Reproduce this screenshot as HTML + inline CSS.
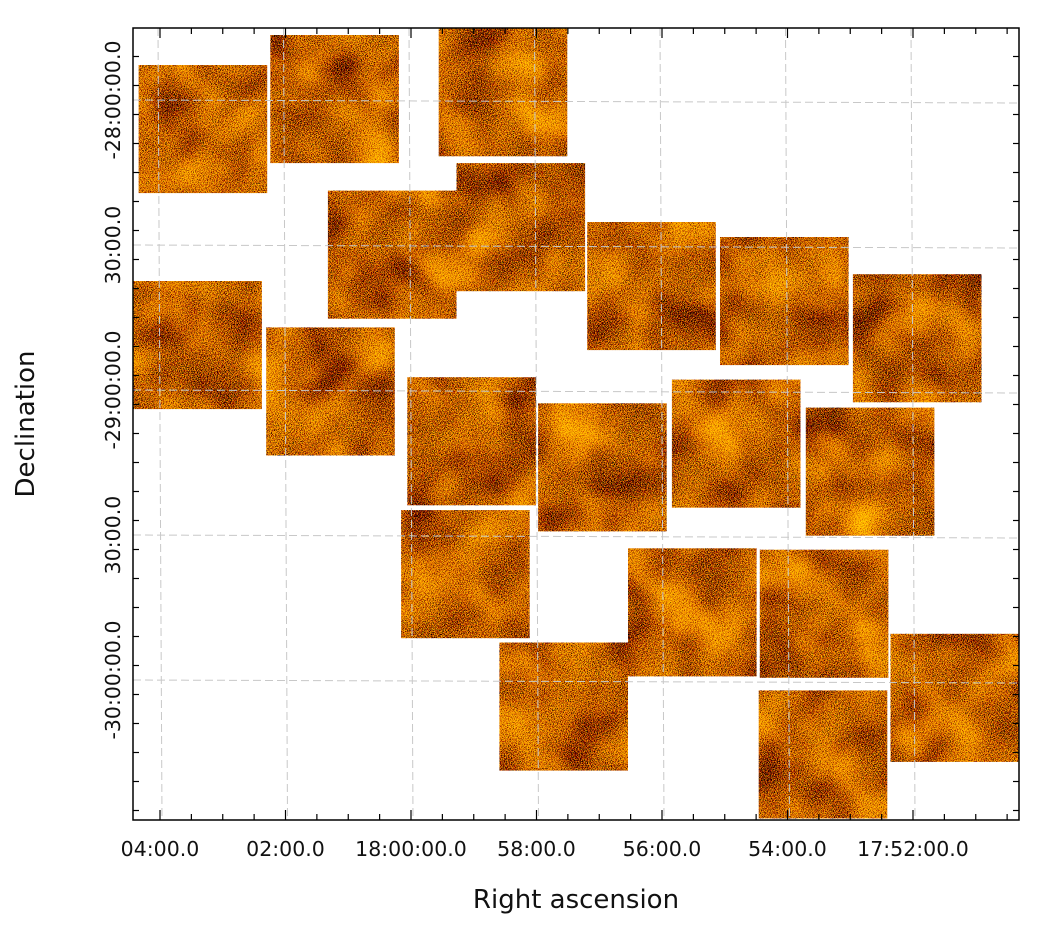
<!DOCTYPE html>
<html><head><meta charset="utf-8">
<style>
body{margin:0;background:#fff;}
svg{display:block;font-family:"DejaVu Sans","Liberation Sans",sans-serif;}
</style></head>
<body>
<svg id="chart" width="1041" height="929" viewBox="0 0 1041 929">
<defs>
<filter id="noise" x="0" y="0" width="1" height="1" filterUnits="objectBoundingBox">
<feTurbulence type="fractalNoise" baseFrequency="1.3" numOctaves="1" seed="3" result="n"/>
<feTurbulence type="fractalNoise" baseFrequency="0.02" numOctaves="2" seed="7" result="low"/>
<feComposite in="n" in2="low" operator="arithmetic" k1="0" k2="1.0" k3="0.3" k4="-0.07" result="mix"/>
<feColorMatrix in="mix" type="matrix" values="5 0 0 0 -1.5  2.3 0 0 0 -0.85  0 0 0 0 0  0 0 0 0 1" result="col"/>
<feComposite in="col" in2="SourceGraphic" operator="in"/>
</filter>
<clipPath id="plotclip"><rect x="133" y="28" width="886" height="792"/></clipPath>
</defs>
<g id="tiles" clip-path="url(#plotclip)"></g>
<g id="grid"></g>
<rect x="133" y="28" width="886" height="792" fill="none" stroke="#000" stroke-width="1.5"/>
<g id="ticks"></g>
<text x="576" y="908" font-size="26" text-anchor="middle" fill="#111">Right ascension</text>
<text x="0" y="0" font-size="26" text-anchor="middle" fill="#111" transform="translate(34,424) rotate(-90)">Declination</text>
</svg>
<script>
// RA offsets in seconds of time relative to 18:00:00 (positive = east/left)
const tileRA = [199,73,-88,18,-105,-230,-357,-484,204,77,-58,-183,-311,-439,-52,-269,-395,-520,-146,-394];
// Dec offsets in arcmin south of -28:00:00
const tileDec = [6.0,-0.2,-1.6,32.0,26.3,38.5,41.6,49.3,50.7,60.3,70.6,76.0,71.1,76.9,98.1,106.0,106.3,123.7,125.5,135.4];
const tileW = 123; // seconds
const tileH = 26.5; // arcmin
const raTicks = [240,120,0,-120,-240,-360,-480];
const raLabels = ["04:00.0","02:00.0","18:00:00.0","58:00.0","56:00.0","54:00.0","17:52:00.0"];
const decTicks = [0,30,60,90,120];
const decLabels = ["-28:00:00.0","30:00.0","-29:00:00.0","30:00.0","-30:00:00.0"];

const X0=411, PXS=125.5/120, Y0=100, PYM=145/30;
function xs(ra){return X0-ra*PXS;}
function ys(m){return Y0+m*PYM;}
const NS="http://www.w3.org/2000/svg";
const tg=document.getElementById('tiles');
for(let i=0;i<tileRA.length;i++){
  const r=document.createElementNS(NS,'rect');
  const w=tileW*PXS, h=tileH*PYM;
  r.setAttribute('x',(xs(tileRA[i])-w/2).toFixed(1));
  r.setAttribute('y',(ys(tileDec[i])-h/2).toFixed(1));
  r.setAttribute('width',w.toFixed(1));
  r.setAttribute('height',h.toFixed(1));
  r.setAttribute('fill','#000');
  r.setAttribute('filter','url(#noise)');
  
  
  tg.appendChild(r);
}
const gg=document.getElementById('grid');
const tk=document.getElementById('ticks');
function line(p,x1,y1,x2,y2,st,sw,dash){
  const l=document.createElementNS(NS,'line');
  l.setAttribute('x1',x1);l.setAttribute('y1',y1);l.setAttribute('x2',x2);l.setAttribute('y2',y2);
  l.setAttribute('stroke',st);l.setAttribute('stroke-width',sw);
  if(dash)l.setAttribute('stroke-dasharray',dash);
  p.appendChild(l);return l;
}
raTicks.forEach((ra,i)=>{
  const x=xs(ra);
  const gl=line(gg,x-2,28,x+2,820,'#c8c8c8',1,'8,4');
  
  
  const t=document.createElementNS(NS,'text');
  t.setAttribute('x',x);t.setAttribute('y',856);t.setAttribute('font-size','20.5');
  t.setAttribute('text-anchor','middle');t.setAttribute('fill','#111');
  t.textContent=raLabels[i];
  
  
  tk.appendChild(t);
});
for(let ra=270;ra>=-570;ra-=30){
  const x=xs(ra); if(x<134||x>1018)continue;
  const major=(ra%120===0);
  const L=major?10:6;
  line(tk,x,820,x,820-L,'#000',1.2);
  line(tk,x,28,x,28+L,'#000',1.2);
}
decTicks.forEach((m,i)=>{
  const y=ys(m);
  const gl=line(gg,133,y,1019,y+3,'#c8c8c8',1,'8,4');
  
  
  const t=document.createElementNS(NS,'text');
  t.setAttribute('transform','translate(120,'+y+') rotate(-90)');
  t.setAttribute('font-size','20.5');t.setAttribute('text-anchor','middle');t.setAttribute('fill','#111');
  t.textContent=decLabels[i];
  
  
  tk.appendChild(t);
});
for(let m=-15;m<=150;m+=6){
  const y=ys(m); if(y<29||y>819)continue;
  const major=(m%30===0);
  const L=major?10:6;
  line(tk,133,y,133+L,y,'#000',1.2);
  line(tk,1019,y,1019-L,y,'#000',1.2);
}
</script>
</body></html>
